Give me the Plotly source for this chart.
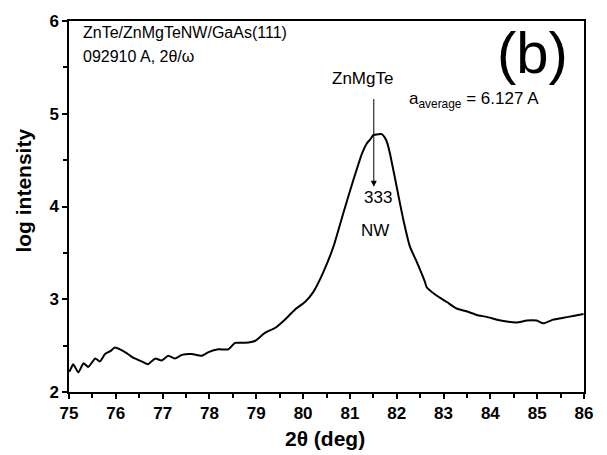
import plotly.graph_objects as go

two_theta = [75.00, 75.02, 75.09, 75.20, 75.31, 75.41, 75.56, 75.66, 75.77, 75.88, 75.98,
             76.09, 76.23, 76.37, 76.55, 76.69, 76.84, 76.98, 77.12, 77.26, 77.41,
             77.62, 77.83, 77.98, 78.19, 78.40, 78.55, 78.76, 78.97, 79.19, 79.40,
             79.61, 79.83, 80.04, 80.22, 80.43, 80.65, 80.86, 81.07, 81.25, 81.36,
             81.43, 81.50, 81.61, 81.68, 81.75, 81.80, 81.86, 82.00, 82.14, 82.28,
             82.43, 82.60, 82.64, 82.85, 83.07, 83.28, 83.49, 83.71, 83.92, 84.14,
             84.35, 84.56, 84.78, 84.99, 85.13, 85.34, 85.56, 85.77, 85.99]
log_intensity = [2.22, 2.23, 2.30, 2.21, 2.31, 2.27, 2.36, 2.33, 2.41, 2.44, 2.48,
                 2.46, 2.42, 2.37, 2.33, 2.30, 2.36, 2.34, 2.39, 2.36, 2.40,
                 2.41, 2.39, 2.43, 2.46, 2.46, 2.53, 2.53, 2.55, 2.64, 2.69,
                 2.78, 2.89, 2.97, 3.08, 3.29, 3.57, 3.93, 4.28, 4.56, 4.68,
                 4.72, 4.77, 4.78, 4.78, 4.74, 4.68, 4.56, 4.21, 3.86, 3.57,
                 3.40, 3.19, 3.13, 3.04, 2.97, 2.90, 2.87, 2.83, 2.81, 2.78,
                 2.76, 2.75, 2.77, 2.77, 2.74, 2.78, 2.80, 2.82, 2.84]

x_ticks = list(range(75, 87))
y_ticks = [2, 3, 4, 5, 6]

FONT = "Liberation Sans, Arial, sans-serif"

fig = go.Figure()
fig.add_trace(go.Scatter(x=two_theta, y=log_intensity, mode="lines",
                         line=dict(color="black", width=2, shape="spline", smoothing=0.5),
                         showlegend=False))

axis_common = dict(
    showline=True, linecolor="black", linewidth=1.5, mirror=True,
    ticks="outside", ticklen=5, tickwidth=1.5, tickcolor="black",
    showgrid=False, zeroline=False,
    tickfont=dict(family=FONT, size=17, color="black", weight="bold"),
    minor=dict(ticks="outside", ticklen=4, tickwidth=1.5, tickcolor="black", dtick=0.5, showgrid=False),
)

fig.update_xaxes(range=[75, 86], tickvals=x_ticks, **axis_common)
fig.update_yaxes(range=[2, 6], tickvals=y_ticks, **axis_common)

ann = []
ann.append(dict(text="2θ (deg)", xref="paper", yref="paper", x=0.498, y=-0.124,
                xanchor="center", yanchor="middle", showarrow=False,
                font=dict(family=FONT, size=21, color="black", weight="bold")))
ann.append(dict(text="log intensity", xref="paper", yref="paper", x=-0.088, y=0.542,
                textangle=-90, xanchor="center", yanchor="middle", showarrow=False,
                font=dict(family=FONT, size=21, color="black", weight="bold")))
ann.append(dict(text="ZnTe/ZnMgTeNW/GaAs(111)", xref="x", yref="y", x=75.256, y=5.875,
                xanchor="left", yanchor="middle", showarrow=False,
                font=dict(family=FONT, size=16, color="black")))
ann.append(dict(text="092910 A, 2θ/ω", xref="x", yref="y", x=75.256, y=5.62,
                xanchor="left", yanchor="middle", showarrow=False,
                font=dict(family=FONT, size=16, color="black")))
ann.append(dict(text="(b)", xref="x", yref="y", x=84.91, y=5.66,
                xanchor="center", yanchor="middle", showarrow=False,
                font=dict(family=FONT, size=58, color="black")))
ann.append(dict(text="ZnMgTe", xref="x", yref="y", x=81.26, y=5.38,
                xanchor="center", yanchor="middle", showarrow=False,
                font=dict(family=FONT, size=17, color="black")))
ann.append(dict(text="a<sub>average</sub> = 6.127 A", xref="x", yref="y", x=82.22, y=5.15,
                xanchor="left", yanchor="middle", showarrow=False,
                font=dict(family=FONT, size=17, color="black")))
ann.append(dict(text="", xref="x", yref="y", x=81.51, y=4.212,
                axref="x", ayref="y", ax=81.51, ay=5.175,
                showarrow=True, arrowhead=2, arrowsize=1.2, arrowwidth=1, arrowcolor="black"))
ann.append(dict(text="333", xref="x", yref="y", x=81.60, y=4.093,
                xanchor="center", yanchor="middle", showarrow=False,
                font=dict(family=FONT, size=17, color="black")))
ann.append(dict(text="NW", xref="x", yref="y", x=81.54, y=3.744,
                xanchor="center", yanchor="middle", showarrow=False,
                font=dict(family=FONT, size=17, color="black")))

fig.update_layout(
    width=607, height=455,
    margin=dict(l=69, r=23, t=14, b=63),
    paper_bgcolor="white", plot_bgcolor="white",
    annotations=ann,
)

fig.write_html("out.html")
